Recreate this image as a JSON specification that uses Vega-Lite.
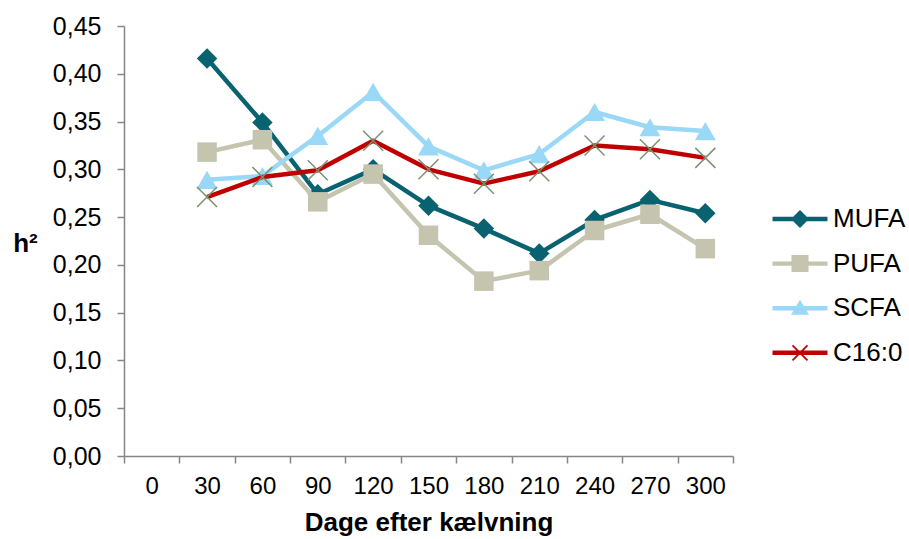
{
  "$schema": "https://vega.github.io/schema/vega-lite/v6.json",
  "width": 609,
  "height": 430,
  "autosize": "none",
  "padding": {"left": 124, "top": 26, "right": 176, "bottom": 83},
  "config": {"view": {"stroke": null}, "font": "Liberation Sans"},
  "data": {"values": [
    {"dag": 30, "serie": "MUFA", "h2": 0.416},
    {"dag": 60, "serie": "MUFA", "h2": 0.349},
    {"dag": 90, "serie": "MUFA", "h2": 0.274},
    {"dag": 120, "serie": "MUFA", "h2": 0.300},
    {"dag": 150, "serie": "MUFA", "h2": 0.262},
    {"dag": 180, "serie": "MUFA", "h2": 0.238},
    {"dag": 210, "serie": "MUFA", "h2": 0.212},
    {"dag": 240, "serie": "MUFA", "h2": 0.247},
    {"dag": 270, "serie": "MUFA", "h2": 0.268},
    {"dag": 300, "serie": "MUFA", "h2": 0.254},
    {"dag": 30, "serie": "PUFA", "h2": 0.318},
    {"dag": 60, "serie": "PUFA", "h2": 0.331},
    {"dag": 90, "serie": "PUFA", "h2": 0.266},
    {"dag": 120, "serie": "PUFA", "h2": 0.295},
    {"dag": 150, "serie": "PUFA", "h2": 0.231},
    {"dag": 180, "serie": "PUFA", "h2": 0.183},
    {"dag": 210, "serie": "PUFA", "h2": 0.194},
    {"dag": 240, "serie": "PUFA", "h2": 0.236},
    {"dag": 270, "serie": "PUFA", "h2": 0.253},
    {"dag": 300, "serie": "PUFA", "h2": 0.217},
    {"dag": 30, "serie": "SCFA", "h2": 0.289},
    {"dag": 60, "serie": "SCFA", "h2": 0.293},
    {"dag": 90, "serie": "SCFA", "h2": 0.335},
    {"dag": 120, "serie": "SCFA", "h2": 0.381},
    {"dag": 150, "serie": "SCFA", "h2": 0.324},
    {"dag": 180, "serie": "SCFA", "h2": 0.299},
    {"dag": 210, "serie": "SCFA", "h2": 0.316},
    {"dag": 240, "serie": "SCFA", "h2": 0.360},
    {"dag": 270, "serie": "SCFA", "h2": 0.344},
    {"dag": 300, "serie": "SCFA", "h2": 0.340},
    {"dag": 30, "serie": "C16:0", "h2": 0.271},
    {"dag": 60, "serie": "C16:0", "h2": 0.292},
    {"dag": 90, "serie": "C16:0", "h2": 0.299},
    {"dag": 120, "serie": "C16:0", "h2": 0.330},
    {"dag": 150, "serie": "C16:0", "h2": 0.300},
    {"dag": 180, "serie": "C16:0", "h2": 0.285},
    {"dag": 210, "serie": "C16:0", "h2": 0.298},
    {"dag": 240, "serie": "C16:0", "h2": 0.325},
    {"dag": 270, "serie": "C16:0", "h2": 0.321},
    {"dag": 300, "serie": "C16:0", "h2": 0.312}
  ]},
  "encoding": {
    "x": {
      "field": "dag", "type": "ordinal", "bandPosition": 0.5,
      "scale": {"type": "band", "domain": [0, 30, 60, 90, 120, 150, 180, 210, 240, 270, 300], "paddingInner": 0, "paddingOuter": 0},
      "axis": {
        "title": "Dage efter kælvning", "titleFontSize": 26, "titleFontWeight": "bold", "titleColor": "#000000", "titlePadding": 11,
        "labelAngle": 0, "labelFontSize": 24, "labelColor": "#000000", "labelPadding": 11,
        "tickBand": "extent", "tickSize": 7, "tickColor": "#868686", "tickWidth": 1.5,
        "domainColor": "#868686", "domainWidth": 1.5, "grid": false
      }
    },
    "y": {
      "field": "h2", "type": "quantitative",
      "scale": {"domain": [0, 0.45], "nice": false, "zero": true},
      "axis": {
        "values": [0, 0.05, 0.1, 0.15, 0.2, 0.25, 0.3, 0.35, 0.4, 0.45],
        "labelExpr": "replace(format(datum.value, '.2f'), '.', ',')",
        "labelFontSize": 25, "labelColor": "#000000", "labelPadding": 16,
        "tickSize": 7, "tickColor": "#868686", "tickWidth": 1.5,
        "domainColor": "#868686", "domainWidth": 1.5, "grid": false,
        "title": "h²", "titleAngle": 0, "titleX": -99, "titleY": 217, "titleAlign": "center", "titleBaseline": "middle",
        "titleFontSize": 26, "titleFontWeight": "bold", "titleColor": "#000000"
      }
    }
  },
  "layer": [
    {
      "transform": [{"filter": "datum.serie === 'MUFA'"}],
      "mark": {"type": "line", "color": "#09626F", "strokeWidth": 4.5, "strokeJoin": "round",
        "point": {"shape": "diamond", "size": 420, "filled": true, "color": "#09626F"}}
    },
    {
      "transform": [{"filter": "datum.serie === 'PUFA'"}],
      "mark": {"type": "line", "color": "#C5C4AF", "strokeWidth": 4.5, "strokeJoin": "round",
        "point": {"shape": "square", "size": 380, "filled": true, "color": "#C5C4AF"}}
    },
    {
      "transform": [{"filter": "datum.serie === 'SCFA'"}],
      "mark": {"type": "line", "color": "#99D8F6", "strokeWidth": 4.5, "strokeJoin": "round",
        "point": {"shape": "triangle-up", "size": 440, "filled": true, "color": "#99D8F6"}}
    },
    {
      "transform": [{"filter": "datum.serie === 'C16:0'"}],
      "mark": {"type": "line", "color": "#C00000", "strokeWidth": 4.5, "strokeJoin": "round",
        "point": {"shape": "M-1,-1L1,1M-1,1L1,-1", "size": 400, "filled": false, "color": "#7B9172", "strokeWidth": 1.5}}
    },
    {
      "mark": {"type": "point", "filled": true, "opacity": 0},
      "encoding": {
        "color": {
          "field": "serie", "type": "nominal",
          "scale": {"domain": ["MUFA", "PUFA", "SCFA", "C16:0"], "range": ["#09626F", "#C5C4AF", "#99D8F6", "#C00000"]},
          "legend": {
            "title": null, "orient": "none", "legendX": 663, "legendY": 180, "padding": 0,
            "labelFontSize": 26, "labelColor": "#000000", "labelOffset": 20, "rowPadding": 18.6,
            "symbolSize": 400, "symbolStrokeWidth": 0, "symbolOpacity": 1,
            "encode": {"symbols": {"update": {"opacity": {"value": 1}, "fillOpacity": {"value": 1}}}}
          }
        },
        "shape": {
          "field": "serie", "type": "nominal",
          "scale": {"domain": ["MUFA", "PUFA", "SCFA", "C16:0"], "range": [
            "M-2.75,-0.22L-0.68,-0.22L0,-0.9L0.68,-0.22L2.75,-0.22L2.75,0.22L0.68,0.22L0,0.9L-0.68,0.22L-2.75,0.22Z",
            "M-2.75,-0.22L-0.85,-0.22L-0.85,-0.85L0.85,-0.85L0.85,-0.22L2.75,-0.22L2.75,0.22L0.85,0.22L0.85,0.85L-0.85,0.85L-0.85,0.22L-2.75,0.22Z",
            "M-2.75,-0.22L-0.38,-0.22L0,-0.85L0.38,-0.22L2.75,-0.22L2.75,0.22L0.64,0.22L0.9,0.65L-0.9,0.65L-0.64,0.22L-2.75,0.22Z",
            "M-2.75,-0.22L2.75,-0.22L2.75,0.22L-2.75,0.22ZM-0.69,-0.81L0.81,0.69L0.69,0.81L-0.81,-0.69ZM-0.81,0.69L0.69,-0.81L0.81,-0.69L-0.69,0.81Z"
          ]},
          "legend": {"title": null}
        }
      }
    }
  ]
}
